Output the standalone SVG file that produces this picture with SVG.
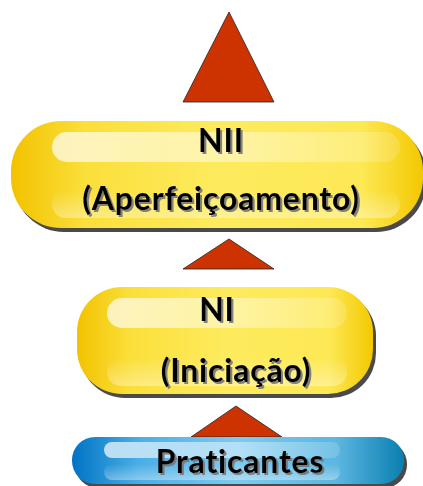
<svg xmlns="http://www.w3.org/2000/svg" width="423" height="486" viewBox="0 0 423 486">
<defs>
<linearGradient id="gy" x1="0" y1="0" x2="1" y2="0">
<stop offset="0" stop-color="#f2c200"/>
<stop offset="0.18" stop-color="#fbdf3a"/>
<stop offset="0.5" stop-color="#fdeb5e"/>
<stop offset="0.85" stop-color="#fde955"/>
<stop offset="1" stop-color="#f3c800"/>
</linearGradient>
<linearGradient id="gb" x1="0" y1="0" x2="1" y2="0">
<stop offset="0" stop-color="#0073c4"/>
<stop offset="0.2" stop-color="#4aaee6"/>
<stop offset="0.5" stop-color="#7dcaf0"/>
<stop offset="0.8" stop-color="#5bb6e0"/>
<stop offset="1" stop-color="#0a7fb0"/>
</linearGradient>
<linearGradient id="hl" x1="0" y1="0" x2="1" y2="0">
<stop offset="0" stop-color="#ffffff" stop-opacity="0.7"/>
<stop offset="0.5" stop-color="#ffffff" stop-opacity="0.45"/>
<stop offset="1" stop-color="#ffffff" stop-opacity="0.15"/>
</linearGradient>
<linearGradient id="hl2" x1="0" y1="0" x2="0" y2="1">
<stop offset="0" stop-color="#ffffff" stop-opacity="0"/>
<stop offset="1" stop-color="#ffffff" stop-opacity="0.35"/>
</linearGradient>
<filter id="ds" x="-10%" y="-20%" width="130%" height="150%">
<feDropShadow dx="2" dy="2" stdDeviation="0.6" flood-color="#777" flood-opacity="0.9"/>
</filter>
</defs>
<style>
.tri{fill:#cc3300;stroke:#222;stroke-width:0.8}
.sh{fill:#4a4a4a}
.t{font-family:Lato,"Open Sans","Liberation Sans",sans-serif;font-weight:bold;font-size:32px;letter-spacing:0.8px;text-anchor:middle;fill:#000;filter:url(#ds)}
</style>
<g id="connectors">
<polygon class="tri" points="229,12 183,102 274,102"/>
<polygon class="tri" points="229,239 183,269 274,269"/>
<polygon class="tri" points="236,406 191,437 282,437"/>
</g>
<g id="node-nii">
<rect class="sh" x="14" y="125" width="412" height="107" rx="50"/>
<rect x="11" y="121" width="412" height="107" rx="50" fill="url(#gy)"/>
<rect x="52" y="132" width="348" height="30" rx="15" fill="url(#hl)"/>
<rect x="52" y="190" width="348" height="28" rx="14" fill="url(#hl2)"/>
<text class="t" x="221" y="152">NII</text>
<text class="t" x="221" y="210">(Aperfeiçoamento)</text>
</g>
<g id="node-ni">
<rect class="sh" x="80" y="291" width="296" height="107" rx="45"/>
<rect x="77" y="287" width="296" height="107" rx="45" fill="url(#gy)"/>
<rect x="107" y="298" width="240" height="30" rx="15" fill="url(#hl)"/>
<rect x="107" y="358" width="240" height="28" rx="14" fill="url(#hl2)"/>
<text class="t" x="217" y="321">NI</text>
<text class="t" x="236" y="382">(Iniciação)</text>
</g>
<g id="node-praticantes">
<rect class="sh" x="75" y="441" width="332" height="47" rx="23"/>
<rect x="72" y="437" width="332" height="47" rx="23" fill="url(#gb)"/>
<rect x="104" y="442" width="236" height="16" rx="8" fill="url(#hl)"/>
<rect x="104" y="464" width="236" height="16" rx="8" fill="url(#hl2)"/>
<text class="t" x="240" y="473">Praticantes</text>
</g>
</svg>
